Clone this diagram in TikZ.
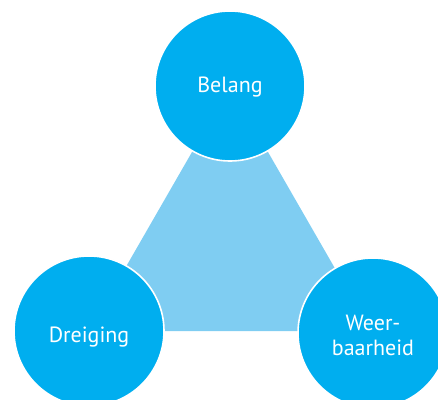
\documentclass[tikz,border=0pt]{standalone}
\usepackage{fontspec}
\setmainfont{PT Sans}
\definecolor{circblue}{HTML}{00AEEF}
\definecolor{triblue}{HTML}{7FCDF2}
\begin{document}
\begin{tikzpicture}[x=1pt,y=-1pt,
  bubble/.style={circle,fill=circblue,draw=white,line width=1.6pt,minimum size=150pt,inner sep=0pt},
  label text/.style={text=white,font=\fontsize{22}{25}\selectfont,align=center}]
\useasboundingbox (0,0) rectangle (438,399);
\coordinate (t) at (230,86);
\coordinate (l) at (89,331);
\coordinate (r) at (371,331);
\fill[triblue] (t) -- (l) -- (r) -- cycle;
\node[bubble] (belang) at (t) {};
\node[bubble] (dreiging) at (l) {};
\node[bubble] (weer) at (373,333) {};
\node[label text] (belangtext) at ([yshift=-1pt]belang.center) {Belang};
\node[label text] (dreigingtext) at ([yshift=-6pt]dreiging.center) {Dreiging};
\node[label text] (weertext) at ([yshift=-2pt]weer.center) {Weer-\\baarheid};
\end{tikzpicture}
\end{document}
